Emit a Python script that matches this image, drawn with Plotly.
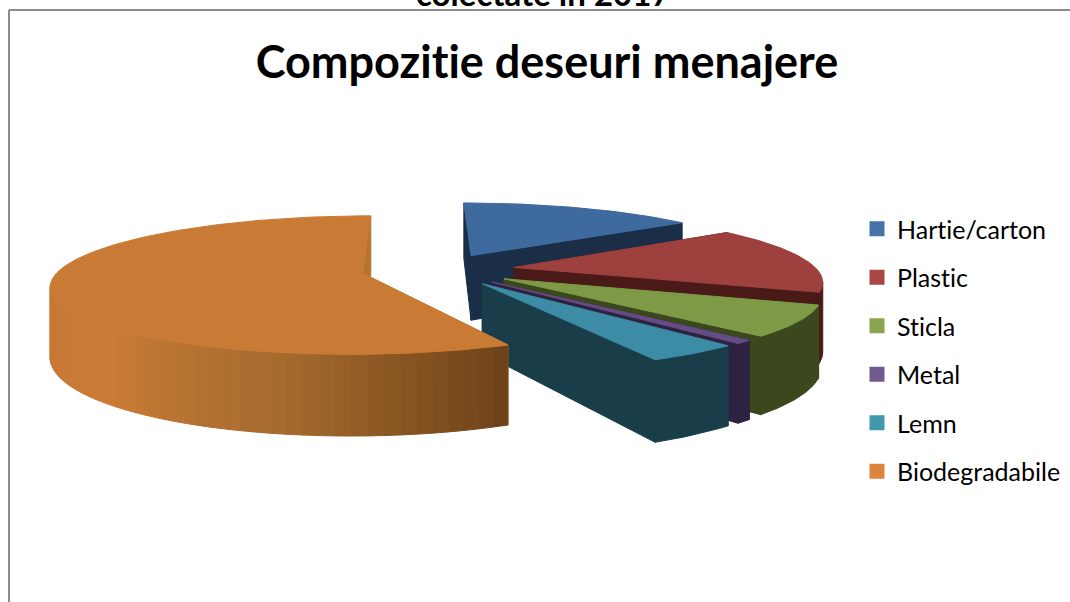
import math
import plotly.graph_objects as go

# ---- data ----
categories = ["Hartie/carton", "Plastic", "Sticla", "Metal", "Lemn", "Biodegradabile"]
values = [15.0, 15.8, 7.1, 0.8, 4.2, 57.1]
legend_colors = ["#4572A7", "#AA4643", "#89A54E", "#71588F", "#4198AF", "#DB843D"]
top_colors = ["#3F6A9E", "#9E403E", "#7E9A46", "#644C84", "#3C8CA6", "#C97B36"]
wall_colors = ["#1A2E48", "#4A1A18", "#3B471D", "#2E2240", "#1A3D4A", "#B87230"]
title_text = "Compozitie deseuri menajere"
clipped_text = "colectate in 2017"

# ---- projection of the exploded 3D pie ----
R, EXPLODE, DEPTH, HEIGHT, PERSP = 303.0, 77.0, 66.0, 67.0, 0.17
VX, VY, CX = 420.0, 269.6, 438.0


def project(wx, wy, z=0.0):
    f = 1.0 / (1.0 + PERSP * wy)
    return VX + wx * f, VY - DEPTH * wy * f + z * HEIGHT * f


def mix(c1, c2, t):
    a = [int(c1[i:i + 2], 16) for i in (1, 3, 5)]
    b = [int(c2[i:i + 2], 16) for i in (1, 3, 5)]
    return "#%02x%02x%02x" % tuple(round(a[i] + (b[i] - a[i]) * t) for i in range(3))


def orange_shade(deg):
    stops = [(153, "#6B4018"), (174, "#8A5722"), (190, "#A56A2E"), (209, "#B87432"),
             (224, "#CA7B36"), (262, "#C67832"), (272, "#BE7230")]
    if deg <= stops[0][0]:
        return stops[0][1]
    for (d1, c1), (d2, c2) in zip(stops, stops[1:]):
        if deg <= d2:
            return mix(c1, c2, (deg - d1) / (d2 - d1))
    return stops[-1][1]


fig = go.Figure()


def poly(pts, color):
    xs = [p[0] for p in pts] + [pts[0][0]]
    ys = [p[1] for p in pts] + [pts[0][1]]
    fig.add_trace(go.Scatter(x=xs, y=ys, mode="lines", fill="toself", fillcolor=color,
                             line=dict(color=color, width=1), hoverinfo="skip",
                             showlegend=False))


total = sum(values)
start = 0.0
for i, name in enumerate(categories):
    sweep = 360.0 * values[i] / total
    end = start + sweep
    mid = math.radians((start + end) / 2)
    wx0 = CX - VX + EXPLODE * math.sin(mid)
    wy0 = EXPLODE * math.cos(mid) / 313.0

    def rim(deg):
        a = math.radians(deg)
        return wx0 + R * math.sin(a), wy0 + math.cos(a)

    # radial cut faces
    for edge in (start, end):
        rx, ry = rim(edge)
        poly([project(wx0, wy0), project(rx, ry), project(rx, ry, 1), project(wx0, wy0, 1)],
             wall_colors[i])

    # outer wall: keep only the degrees that face the viewer
    fine = 120
    degs = [start + sweep * k / fine for k in range(fine + 1)]
    front = []
    for a, b in zip(degs, degs[1:]):
        if project(*rim(b))[0] < project(*rim(a))[0] and math.cos(math.radians(a)) < 0.3:
            if not front:
                front.append(a)
            front.append(b)
    if name == "Biodegradabile":
        # shaded in strips
        lo, hi = min(front), max(front)
        n = int((hi - lo) / 2.5)
        for k in range(n):
            d1 = lo + (hi - lo) * k / n
            d2 = lo + (hi - lo) * (k + 1) / n
            col = orange_shade((d1 + d2) / 2)
            p1, p2 = rim(d1), rim(d2)
            poly([project(*p1), project(*p2), project(*p2, 1), project(*p1, 1)], col)
    elif front:
        upper = [project(*rim(d)) for d in front]
        lower = [project(*rim(d), 1) for d in reversed(front)]
        poly(upper + lower, wall_colors[i])

    # top face
    steps = max(4, int(sweep))
    face = [project(wx0, wy0)]
    face += [project(*rim(start + sweep * k / steps)) for k in range(steps + 1)]
    poly(face, top_colors[i])
    start = end

# legend entries
for i, name in enumerate(categories):
    fig.add_trace(go.Scatter(x=[None], y=[None], mode="markers", name=name, legendgroup=name,
                             marker=dict(symbol="square", size=15, color=legend_colors[i])))

fig.update_layout(
    width=1070, height=602, autosize=False,
    margin=dict(l=0, r=0, t=0, b=0),
    paper_bgcolor="white", plot_bgcolor="white",
    font=dict(family="Lato, Carlito, sans-serif", color="#000000"),
    xaxis=dict(range=[0, 1070], visible=False, fixedrange=True),
    yaxis=dict(range=[602, 0], visible=False, fixedrange=True),
    title=dict(text="<b>%s</b>" % title_text, font=dict(size=45, color="#000000"),
               x=547 / 1070, xanchor="center", xref="paper",
               y=1 - 62 / 602, yanchor="middle", yref="paper"),
    legend=dict(x=857 / 1070, xanchor="left", y=1 - 206 / 602, yanchor="top",
                font=dict(size=25, color="#000000"), tracegroupgap=13,
                bgcolor="rgba(0,0,0,0)", itemclick=False, itemdoubleclick=False),
    shapes=[dict(type="line", xref="x", yref="y", x0=9, x1=1070, y0=10, y1=10,
                 line=dict(color="#8C8C8C", width=2)),
            dict(type="line", xref="x", yref="y", x0=9, x1=9, y0=10, y1=602,
                 line=dict(color="#8C8C8C", width=2))],
    annotations=[dict(text="<b>%s</b>" % clipped_text, x=543, y=15, xref="x", yref="y",
                      xanchor="center", yanchor="bottom", showarrow=False,
                      font=dict(size=33, color="#000000"))],
)

page_fix = """
document.body.style.margin = '0';
document.documentElement.style.overflow = 'hidden';
var s = document.createElement('style');
s.textContent = 'text { font-variant-ligatures: none !important; font-feature-settings: "liga" 0, "clig" 0 !important; }';
document.head.appendChild(s);
"""
fig.write_html("out.html", post_script=page_fix, config={"displayModeBar": False})
